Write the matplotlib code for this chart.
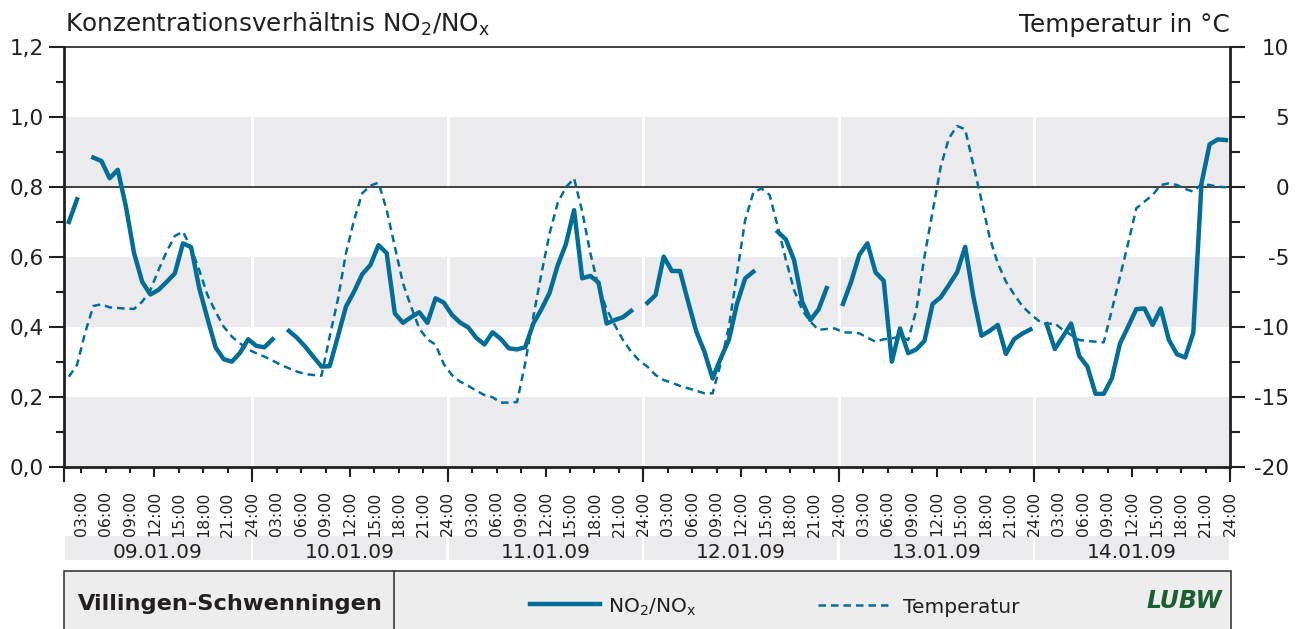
# -*- coding: utf-8 -*-
# NO2/NOx-Verhaeltnis und Temperatur, Villingen-Schwenningen 09.-14.01.09

import numpy as np
import matplotlib
matplotlib.use('Agg')
import matplotlib.pyplot as plt
import matplotlib.transforms as mtransforms
from matplotlib.patches import Rectangle
from matplotlib.lines import Line2D
from matplotlib.ticker import FixedLocator, MultipleLocator, FuncFormatter

plt.rcParams['font.family'] = ['DejaVu Sans']
plt.rcParams['axes.unicode_minus'] = False

nan = np.nan

# Daten: Stundenwerte (Mitte der Stunde), 01:30 am 09.01. bis 23:30 am 14.01.
days = ['09.01.09', '10.01.09', '11.01.09', '12.01.09', '13.01.09', '14.01.09']

no2_ratio = [
    # 09.01.
    0.70, 0.765, nan, 0.884, 0.874, 0.825, 0.849, 0.744, 0.611, 0.529, 0.493, 0.506,
    0.529, 0.553, 0.639, 0.628, 0.511, 0.425, 0.342, 0.308, 0.301, 0.326, 0.365,
    # 10.01.
    0.346, 0.342, 0.365, nan, 0.389, 0.369, 0.344, 0.315, 0.287, 0.288, 0.372, 0.458,
    0.501, 0.551, 0.577, 0.634, 0.611, 0.439, 0.412, 0.428, 0.442, 0.412, 0.482, 0.470,
    # 11.01.
    0.435, 0.413, 0.399, 0.369, 0.350, 0.385, 0.366, 0.339, 0.336, 0.342, 0.410, 0.451,
    0.498, 0.577, 0.637, 0.734, 0.539, 0.546, 0.527, 0.410, 0.420, 0.428, 0.446, nan,
    # 12.01.
    0.469, 0.491, 0.601, 0.560, 0.560, 0.472, 0.387, 0.329, 0.253, 0.311, 0.363, 0.467,
    0.539, 0.558, nan, nan, 0.672, 0.650, 0.591, 0.472, 0.420, 0.450, 0.511, nan,
    # 13.01.
    0.466, 0.529, 0.606, 0.639, 0.556, 0.532, 0.301, 0.396, 0.325, 0.336, 0.360, 0.466,
    0.485, 0.520, 0.556, 0.629, 0.487, 0.375, 0.389, 0.406, 0.323, 0.365, 0.381, 0.393,
    # 14.01.
    nan, 0.408, 0.337, 0.373, 0.410, 0.317, 0.287, 0.209, 0.209, 0.253, 0.353, 0.401,
    0.451, 0.453, 0.406, 0.453, 0.363, 0.322, 0.313, 0.384, 0.810, 0.922, 0.936, 0.934,
]

temperature = [
    # 09.01.
    -13.55, -12.71, -10.4, -8.5, -8.38, -8.6, -8.64, -8.69, -8.71, -8.19, -7.36, -5.93,
    -4.62, -3.5, -3.19, -4.38, -5.93, -7.71, -8.9, -9.98, -10.69, -11.17, -11.6,
    # 10.01.
    -11.88, -12.12, -12.4, -12.7, -12.95, -13.19, -13.36, -13.43, -13.48, -10.7, -8.07, -4.74,
    -2.36, -0.45, 0.1, 0.31, -1.64, -4.26, -6.88, -8.55, -10.1, -10.88, -11.26, -12.64,
    # 11.01.
    -13.43, -13.9, -14.2, -14.55, -14.86, -15.02, -15.4, -15.4, -15.36, -12.6, -9.26, -6.17,
    -3.31, -1.12, -0.02, 0.62, -1.76, -4.74, -7.12, -8.74, -9.86, -10.93, -11.76, -12.4,
    # 12.01.
    -12.83, -13.43, -13.79, -13.98, -14.21, -14.38, -14.55, -14.74, -14.74, -12.6, -9.98, -6.17,
    -2.36, -0.4, -0.1, -0.57, -2.83, -5.21, -7.36, -8.79, -9.62, -10.21, -10.14, -10.1,
    # 13.01.
    -10.38, -10.4, -10.45, -10.76, -11.05, -10.88, -10.81, -10.69, -10.93, -8.79, -4.98, -1.76,
    1.45, 3.48, 4.36, 4.12, 1.57, -0.93, -3.6, -5.45, -6.76, -7.67, -8.5, -9.07,
    # 14.01.
    -9.55, -9.79, -9.74, -10.21, -10.57, -10.93, -11.0, -11.05, -11.1, -8.79, -6.4, -4.02,
    -1.52, -1.05, -0.57, 0.14, 0.26, 0.14, -0.14, -0.33, 0.21, 0.14, 0.02, -0.02,
]

hours = np.arange(1.5, 144, 1.0)

ratio_ticks  = [0.0, 0.2, 0.4, 0.6, 0.8, 1.0, 1.2]
ratio_labels = ['0,0', '0,2', '0,4', '0,6', '0,8', '1,0', '1,2']
temp_ticks   = [-20, -15, -10, -5, 0, 5, 10]
temp_labels  = ['-20', '-15', '-10', '-5', '0', '5', '10']

# Farben
blue = '#006e99'
band = '#ebebed'
ink  = '#231f20'

W, H = 1301, 629
fig = plt.figure(figsize=(W / 100, H / 100), dpi=100)
ax = fig.add_axes([64 / W, 162 / H, 1166 / W, 420 / H])
x0 = 0.9
ax.set_xlim(x0, 144)
ax.set_ylim(0, 1.2)

# Hintergrund: graue Baender, weisse Tagestrenner, Nulllinie Temperatur
for lo in (0.0, 0.4, 0.8):
    ax.axhspan(lo, lo + 0.2, color=band, lw=0, zorder=0)
for d in range(1, 6):
    ax.axvline(24 * d, color='white', lw=2.2, zorder=0.5)
ax.axhline(0.8, color=ink, lw=1.2, zorder=1)

ax.plot(hours, no2_ratio, color=blue, lw=3.2, zorder=3)

ax2 = ax.twinx()
ax2.set_ylim(-20, 10)
ax2.plot(hours, temperature, color=blue, lw=1.8, ls=(0, (3, 2)), zorder=3)

# Achsen
for s in ('left', 'bottom'):
    ax.spines[s].set_linewidth(2.0)
    ax.spines[s].set_color(ink)
ax.spines['top'].set_linewidth(1.2)
ax.spines['top'].set_color(ink)
ax.spines['right'].set_visible(False)
for s in ('left', 'bottom', 'top'):
    ax2.spines[s].set_visible(False)
ax2.spines['right'].set_linewidth(2.0)
ax2.spines['right'].set_color(ink)

ax.set_yticks(ratio_ticks, ratio_labels)
ax.yaxis.set_minor_locator(MultipleLocator(0.1))
ax.tick_params(axis='y', which='major', length=10.8, width=1.5, pad=3.6,
               labelsize=15.5, colors=ink)
ax.tick_params(axis='y', which='minor', length=5.8, width=1.5, colors=ink)

ax2.set_yticks(temp_ticks, temp_labels)
ax2.yaxis.set_minor_locator(MultipleLocator(2.5))
ax2.tick_params(axis='y', which='major', length=10.8, width=1.5, pad=31.7,
                labelsize=15.5, colors=ink)
ax2.tick_params(axis='y', which='minor', length=7.2, width=1.5, colors=ink)
for lab in ax2.get_yticklabels():
    lab.set_horizontalalignment('right')


def hour_label(v, pos):
    h = int(round(v)) % 24
    if h == 0:
        h = 24
    return '%02d:00' % h


ax.xaxis.set_major_locator(FixedLocator(range(12, 145, 12)))
ax.xaxis.set_minor_locator(MultipleLocator(3))
ax.xaxis.set_major_formatter(FuncFormatter(hour_label))
ax.xaxis.set_minor_formatter(FuncFormatter(hour_label))
ax.tick_params(axis='x', which='major', length=7.5, width=1.5, pad=9.7,
               labelsize=11.3, labelrotation=90, colors=ink)
ax.tick_params(axis='x', which='minor', length=4.5, width=1.5, pad=13.0,
               labelsize=11.3, labelrotation=90, colors=ink)

# lange Striche an den Tagesgrenzen
edges = [x0] + [24 * (i + 1) for i in range(6)]
ax.vlines(edges, -15 / 420, 0, transform=ax.get_xaxis_transform(),
          colors=ink, lw=1.5, clip_on=False)

# Datumsleiste
trans = mtransforms.blended_transform_factory(ax.transData, fig.transFigure)
for i, day in enumerate(days):
    a = max(24 * i, x0) + 0.12
    b = 24 * (i + 1) - 0.18
    ax.add_patch(Rectangle((a, 69 / H), b - a, 24 / H, transform=trans,
                           facecolor=band, lw=0, clip_on=False))
    ax.text((a + b) / 2, 71 / H, day, transform=trans, ha='center',
            va='baseline', fontsize=14.5, color=ink)

# Legendenkasten unten
fig.add_artist(Rectangle((64 / W, -0.05), 1167 / W, 58 / H + 0.05,
                         transform=fig.transFigure, facecolor='#ededee',
                         edgecolor='#3a3a3a', lw=1.2))
fig.add_artist(Line2D([394 / W, 394 / W], [0, 58 / H], transform=fig.transFigure,
                      color='#3a3a3a', lw=1.2))
fig.text(78 / W, 19 / H, 'Villingen-Schwenningen', fontsize=16.2,
         fontweight='bold', color=ink, va='baseline')

fig.add_artist(Line2D([530 / W, 600 / W], [25 / H, 25 / H], transform=fig.transFigure,
                      color=blue, lw=3.2))
fig.text(608 / W, 16 / H, 'NO$_2$/NO$_\\mathrm{x}$', fontsize=14.5, color=ink,
         va='baseline')
fig.add_artist(Line2D([818 / W, 892 / W], [24 / H, 24 / H], transform=fig.transFigure,
                      color=blue, lw=1.8, ls=(0, (3, 2))))
fig.text(903 / W, 16 / H, 'Temperatur', fontsize=14.5, color=ink, va='baseline')
fig.text(1222 / W, 21 / H, 'LUBW', fontsize=17, fontweight='bold', style='italic',
         color='#1b5e30', ha='right', va='baseline')

# Achsentitel
fig.text(65 / W, 1 - 32 / H, 'Konzentrationsverhältnis NO$_2$/NO$_\\mathrm{x}$',
         fontsize=17.8, color=ink, va='baseline')
fig.text(1230 / W, 1 - 32 / H, 'Temperatur in °C', fontsize=17.8, color=ink,
         ha='right', va='baseline')

fig.savefig('out.png', dpi=100)
